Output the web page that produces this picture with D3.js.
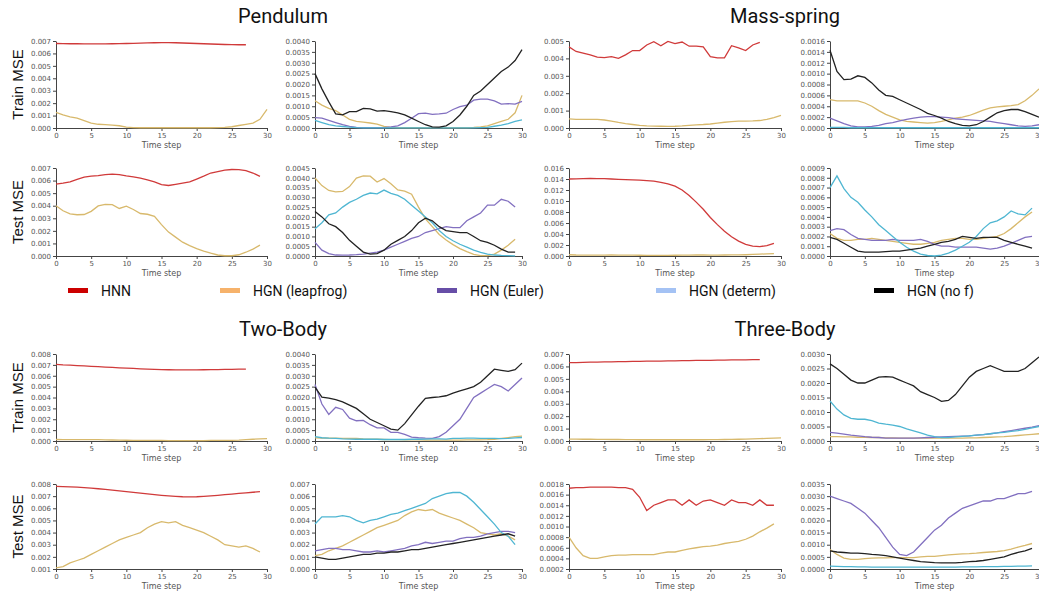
<!DOCTYPE html>
<html>
<head>
<meta charset="utf-8">
<script src="https://cdn.jsdelivr.net/npm/d3@7"></script>
<style>
  body { margin: 0; background: #fff; }
  .tick text { font-family: "DejaVu Sans", sans-serif; font-size: 7px; fill: #555; }
  .tick line { stroke: #444; }
  .domain { stroke: #444; }
</style>
</head>
<body>
<div id="chart"></div>
<script>
// ---------- data ----------
const seriesNames = ["HNN", "HGN (leapfrog)", "HGN (Euler)", "HGN (determ)", "HGN (no f)"];
const legendColors = ["#cc0000", "#f6b26b", "#674ea7", "#a4c2f4", "#000000"];
const lineColors = ["#d03a3a", "#d8b96c", "#8270c0", "#4fb6d2", "#222222"];
const xTicks = [0, 5, 10, 15, 20, 25, 30];

// Pendulum
const pendTrainHNN = [0.0068,0.00679,0.00678,0.00678,0.00677,0.00677,0.00677,0.00677,0.00678,0.00679,0.0068,0.00681,0.00683,0.00685,0.00686,0.00687,0.00687,0.00686,0.00684,0.00682,0.0068,0.00678,0.00676,0.00674,0.00672,0.00671,0.0067,0.0067];
const pendTrainLeap = [0.00125,0.00105,0.0009,0.0008,0.0006,0.0004,0.0003,0.00027,0.00023,0.00018,0.00007,0.00003,0.00002,0.00002,0.00002,0.00002,0.00002,0.00002,0.00002,0.00002,0.00002,0.00002,0.00002,0.00003,0.00005,0.0001,0.0002,0.0003,0.0004,0.0007,0.0015];
const pendTrainEuler = [0.00048,0.00045,0.00035,0.00025,0.00015,0.00007,0.00003,0.00002,0.00002,0.00002,0.00002,0.00005,0.0001,0.00025,0.00045,0.00066,0.00068,0.00063,0.00065,0.00068,0.00085,0.00098,0.00105,0.00128,0.00133,0.00133,0.00125,0.0011,0.00112,0.0011,0.00122];
const pendTrainDeterm = [0.00035,0.00025,0.00015,0.0001,0.00007,0.00004,0.00002,0.00001,0.00001,0.00001,0.00001,0.00001,0.00001,0.00001,0.00001,0.00001,0.00001,0.00001,0.00001,0.00001,0.00001,0.00001,0.00001,0.00001,0.00002,0.00003,0.00008,0.00013,0.0002,0.0003,0.00037];
const pendTrainNoF = [0.0025,0.0018,0.0012,0.00065,0.0006,0.00075,0.00075,0.0009,0.00088,0.00078,0.0008,0.00075,0.0007,0.0006,0.00045,0.0003,0.00015,0.00005,0.00004,0.0001,0.0003,0.0006,0.001,0.0015,0.0017,0.002,0.0023,0.0026,0.0028,0.0031,0.0036];
const pendTestHNN = [0.00572,0.0058,0.0059,0.0061,0.00628,0.00635,0.0064,0.00648,0.00652,0.00648,0.00638,0.0063,0.0062,0.00605,0.0059,0.00568,0.00561,0.0057,0.0058,0.0059,0.00612,0.00635,0.0066,0.00672,0.00683,0.00688,0.00687,0.0068,0.0066,0.00633];
const pendTestLeap = [0.00399,0.0036,0.00335,0.00328,0.0033,0.00355,0.00398,0.0041,0.00408,0.00378,0.00396,0.0037,0.00338,0.00332,0.00316,0.0025,0.0019,0.0015,0.0011,0.00082,0.00058,0.00038,0.00022,0.00008,0.00002,0.00002,0.0001,0.0003,0.00055,0.00086];
const pendTestEuler = [0.0007,0.0003,0.00012,0.00005,0.00004,0.00005,0.00007,0.0001,0.00015,0.0002,0.0003,0.00045,0.0006,0.00075,0.0009,0.001,0.0012,0.0013,0.0014,0.0015,0.00145,0.00145,0.0018,0.002,0.0022,0.0026,0.0026,0.0029,0.0028,0.0025];
const pendTestDeterm = [0.00139,0.0017,0.0021,0.0022,0.0025,0.00274,0.0029,0.0031,0.00322,0.00318,0.00337,0.0032,0.0031,0.0029,0.0026,0.0023,0.002,0.0017,0.0013,0.001,0.00078,0.0006,0.00045,0.0003,0.00018,0.0001,0.00005,0.00003,0.00002,0.00001];
const pendTestNoF = [0.00228,0.002,0.00165,0.0015,0.0012,0.0008,0.0005,0.0002,0.0001,0.00012,0.0003,0.0006,0.0008,0.001,0.0013,0.0017,0.00193,0.0018,0.0015,0.0013,0.00125,0.0012,0.0012,0.001,0.00078,0.0007,0.00055,0.00035,0.0002,0.0002];

// Mass-spring
const msTrainHNN = [0.00466,0.0044,0.0043,0.0042,0.00407,0.00405,0.0041,0.004,0.0042,0.00445,0.00445,0.00477,0.00496,0.00473,0.00498,0.00485,0.00494,0.0047,0.0047,0.00466,0.0041,0.00403,0.00403,0.00473,0.0046,0.00445,0.00477,0.00492];
const msTrainLeap = [0.00052,0.0005,0.0005,0.0005,0.0005,0.00046,0.0004,0.00032,0.00025,0.0002,0.00015,0.00012,0.00011,0.0001,0.00009,0.0001,0.00012,0.00015,0.00018,0.0002,0.00023,0.00028,0.00033,0.00037,0.00039,0.0004,0.00041,0.00043,0.0005,0.0006,0.00072];
const msTrainEuler = [0.00018,0.00013,0.00008,0.00004,0.00002,0.00002,0.00003,0.00005,0.00008,0.0001,0.00013,0.00016,0.00018,0.0002,0.00021,0.00021,0.0002,0.00019,0.00017,0.00016,0.00015,0.00014,0.00013,0.00012,0.0001,0.00008,0.00006,0.00004,0.00003,0.00004,0.00006];
const msTrainDeterm = [0.00001,0.00001,0.00001,0.000005,0.000005,0.000005,0.000005,0.000005,0.000005,0.000005,0.000005,0.000005,0.000005,0.000005,0.000005,0.000005,0.000005,0.000005,0.000005,0.000005,0.000005,0.000005,0.000005,0.000005,0.000005,0.000005,0.000005,0.000005,0.000005,0.000005,0.000005];
const msTrainNoF = [0.00143,0.00104,0.00089,0.0009,0.00096,0.00093,0.00083,0.0007,0.0006,0.00058,0.00052,0.00046,0.0004,0.00034,0.00027,0.00023,0.00018,0.00012,0.00008,0.00005,0.00004,0.00006,0.00012,0.0002,0.00028,0.00032,0.00034,0.00034,0.0003,0.00025,0.0002];
const msTestHNN = [0.014,0.01402,0.01405,0.0141,0.01408,0.01405,0.014,0.01395,0.0139,0.01385,0.0138,0.0137,0.0136,0.0134,0.0131,0.0127,0.012,0.011,0.0098,0.0085,0.007,0.0057,0.0045,0.0035,0.0027,0.0021,0.0018,0.0017,0.0019,0.0023];
const msTestLeap = [0.00023,0.00018,0.00016,0.00016,0.00017,0.00017,0.00018,0.00017,0.00016,0.00015,0.00014,0.00013,0.00012,0.00012,0.00013,0.00014,0.00016,0.00017,0.00018,0.00018,0.00017,0.00017,0.00018,0.00019,0.0002,0.00023,0.00028,0.00034,0.0004,0.00045];
const msTestEuler = [0.00026,0.00028,0.00027,0.00022,0.00018,0.00017,0.00016,0.00016,0.00016,0.00017,0.00016,0.00016,0.00016,0.00017,0.00015,0.00012,0.0001,0.0001,0.00009,0.00009,0.00009,0.00009,0.00008,0.00007,0.00008,0.0001,0.00013,0.00016,0.00019,0.0002];
const msTestDeterm = [0.0007,0.00082,0.00069,0.0006,0.00055,0.00047,0.0004,0.00032,0.00026,0.0002,0.00014,0.00009,0.00005,0.00002,0.000005,0,0.00001,0.00003,0.00006,0.0001,0.00014,0.0002,0.00028,0.00034,0.00036,0.0004,0.00046,0.00043,0.00042,0.00049];
const msTestNoF = [0.00019,0.00017,0.00013,0.00009,0.00005,0.00004,0.00004,0.00004,0.000045,0.00005,0.00005,0.00006,0.00007,0.00008,0.0001,0.00012,0.00014,0.00015,0.00017,0.0002,0.00019,0.00018,0.00019,0.00019,0.00019,0.00016,0.00014,0.00012,0.0001,0.00008];

// Two-Body
const tbTrainHNN = [0.00705,0.007,0.00697,0.00693,0.0069,0.00686,0.00683,0.0068,0.00677,0.00673,0.0067,0.00667,0.00664,0.00661,0.00659,0.00657,0.00655,0.00654,0.00654,0.00654,0.00654,0.00655,0.00656,0.00657,0.00658,0.00659,0.0066,0.00661];
const tbTrainLeap = [0.00014,0.00013,0.00013,0.00013,0.00012,0.00012,0.00012,0.0001,0.00009,0.00008,0.00007,0.00006,0.00006,0.00005,0.00005,0.00005,0.00004,0.00004,0.00004,0.00004,0.00004,0.00004,0.00005,0.00005,0.00005,0.00006,0.00008,0.00012,0.00016,0.0002,0.00022];
const tbTrainEuler = [0.0026,0.0017,0.00122,0.00155,0.00145,0.00105,0.00093,0.00095,0.00075,0.0006,0.0006,0.0004,0.0004,0.0003,0.00018,0.00015,0.00013,0.00012,0.0002,0.0004,0.0007,0.001,0.0015,0.002,0.0022,0.0024,0.0026,0.0025,0.0023,0.0026,0.0029];
const tbTrainDeterm = [0.0002,0.00015,0.00013,0.00012,0.0001,0.00009,0.00008,0.00008,0.00008,0.00008,0.00007,0.00007,0.00007,0.00007,0.00008,0.00008,0.00009,0.0001,0.0001,0.00009,0.00012,0.00012,0.00013,0.00013,0.00012,0.00012,0.00012,0.00011,0.00012,0.00014,0.00016];
const tbTrainNoF = [0.00248,0.00202,0.00197,0.0019,0.0018,0.00165,0.0015,0.00125,0.001,0.00085,0.0007,0.00055,0.0005,0.0008,0.0012,0.0016,0.00196,0.002,0.00203,0.00208,0.0022,0.0023,0.0024,0.0025,0.0027,0.003,0.0033,0.00325,0.0032,0.00328,0.00358];
const tbTestHNN = [0.0078,0.00779,0.00777,0.00774,0.0077,0.00766,0.00761,0.00755,0.00749,0.00743,0.00737,0.00731,0.00725,0.00719,0.00713,0.00707,0.00702,0.00698,0.00695,0.00694,0.00695,0.00698,0.00702,0.00707,0.00712,0.00717,0.00722,0.00727,0.00732,0.00737];
const tbTestLeap = [0.0011,0.0012,0.0015,0.0017,0.0019,0.0022,0.0025,0.0028,0.0031,0.0034,0.0036,0.0038,0.004,0.0044,0.0047,0.0049,0.0048,0.0049,0.0046,0.0044,0.0042,0.004,0.0037,0.0034,0.003,0.0029,0.0028,0.0029,0.0027,0.0024];
const tbTestEuler = [0.0015,0.0016,0.0017,0.0017,0.0016,0.0016,0.0015,0.0014,0.0014,0.0015,0.0014,0.0015,0.0016,0.0017,0.0019,0.002,0.0022,0.0021,0.0022,0.0023,0.0023,0.0025,0.0026,0.0026,0.0027,0.0029,0.003,0.0031,0.0031,0.003];
const tbTestDeterm = [0.0037,0.0043,0.0043,0.0043,0.0044,0.0043,0.004,0.0038,0.004,0.0041,0.0043,0.0045,0.0046,0.0048,0.005,0.0052,0.0054,0.0058,0.006,0.0062,0.0063,0.0063,0.006,0.0055,0.0049,0.0043,0.0037,0.003,0.0027,0.002];
const tbTestNoF = [0.001,0.0009,0.0008,0.0008,0.0009,0.001,0.0011,0.0012,0.0012,0.0013,0.0013,0.0014,0.0014,0.0015,0.0016,0.0016,0.0017,0.0018,0.0019,0.002,0.0021,0.0022,0.0023,0.0024,0.0025,0.0026,0.0027,0.0028,0.0029,0.0027];

// Three-Body
const thTrainHNN = [0.0063,0.00631,0.00632,0.00634,0.00635,0.00636,0.00637,0.00638,0.00639,0.0064,0.00641,0.00642,0.00642,0.00643,0.00644,0.00645,0.00646,0.00647,0.00648,0.00648,0.00649,0.0065,0.00651,0.00652,0.00652,0.00653,0.00654,0.00655];
const thTrainLeap = [0.00015,0.00015,0.00014,0.00014,0.00013,0.00013,0.00012,0.00012,0.00011,0.00011,0.0001,0.0001,0.0001,0.0001,0.0001,0.0001,0.0001,0.0001,0.0001,0.0001,0.00011,0.00011,0.00012,0.00013,0.00014,0.00015,0.00017,0.00019,0.00021,0.00023,0.00025];
const thTrainEuler = [0.0003,0.00027,0.00024,0.0002,0.00018,0.00015,0.00013,0.00012,0.0001,0.0001,0.0001,0.0001,0.0001,0.00011,0.00012,0.00013,0.00014,0.00015,0.00016,0.00017,0.00018,0.0002,0.00022,0.00025,0.00028,0.00032,0.00036,0.0004,0.00044,0.00048,0.00053];
const thTrainDeterm = [0.00138,0.0011,0.0009,0.00078,0.00075,0.00075,0.0007,0.00062,0.00058,0.00055,0.0005,0.00042,0.00035,0.00028,0.0002,0.00015,0.00012,0.00012,0.00014,0.00016,0.00018,0.0002,0.00022,0.00025,0.00028,0.0003,0.00033,0.00036,0.0004,0.00045,0.0005];
const thTrainNoF = [0.00266,0.0025,0.0023,0.0021,0.002,0.002,0.0021,0.0022,0.00222,0.0022,0.0021,0.002,0.0019,0.0017,0.0016,0.0015,0.00137,0.0014,0.0016,0.0019,0.0022,0.0024,0.0025,0.0026,0.0025,0.0024,0.0024,0.0024,0.0025,0.0027,0.0029];
const thTestHNN = [0.00172,0.00173,0.00173,0.00174,0.00174,0.00174,0.00174,0.00173,0.00173,0.0017,0.00155,0.0013,0.0014,0.00145,0.0015,0.0015,0.0014,0.0015,0.0014,0.00148,0.0015,0.00145,0.0014,0.0015,0.00145,0.00145,0.0014,0.0015,0.0014,0.0014];
const thTestLeap = [0.0008,0.0006,0.00045,0.0004,0.0004,0.00043,0.00045,0.00046,0.00046,0.00047,0.00047,0.00047,0.00047,0.0005,0.00052,0.00052,0.00055,0.00058,0.0006,0.00062,0.00063,0.00065,0.00068,0.0007,0.00072,0.00076,0.00082,0.0009,0.00097,0.00105];
const thTestEuler = [0.003,0.0029,0.0028,0.0027,0.0025,0.0023,0.002,0.0017,0.0013,0.0009,0.0006,0.00055,0.0007,0.001,0.0013,0.0016,0.0018,0.0021,0.0023,0.0025,0.0026,0.0027,0.0028,0.0028,0.0029,0.0029,0.003,0.0031,0.0031,0.0032];
const thTestDeterm = [0.00012,0.00011,0.0001,0.0001,0.00009,0.00009,0.00008,0.00008,0.00008,0.00008,0.00008,0.00008,0.00008,0.00008,0.00008,0.00008,0.00008,0.00008,0.00008,0.00009,0.00009,0.00009,0.0001,0.0001,0.0001,0.00011,0.00011,0.00012,0.00012,0.00013];
const thTestNoF = [0.00075,0.0007,0.00068,0.00065,0.00065,0.00063,0.0006,0.00058,0.00055,0.0005,0.00045,0.0004,0.00035,0.0003,0.00028,0.00026,0.00025,0.00025,0.00025,0.00027,0.0003,0.00032,0.00035,0.0004,0.00045,0.0005,0.0006,0.00068,0.00075,0.00085];

// y tick labels of each panel
const ticks007 = [0,0.001,0.002,0.003,0.004,0.005,0.006,0.007];
const ticks008 = [0,0.001,0.002,0.003,0.004,0.005,0.006,0.007,0.008];
const ticks0040 = [0,0.0005,0.001,0.0015,0.002,0.0025,0.003,0.0035,0.004];
const ticks0045 = [0,0.0005,0.001,0.0015,0.002,0.0025,0.003,0.0035,0.004,0.0045];
const ticks0035 = [0,0.0005,0.001,0.0015,0.002,0.0025,0.003,0.0035];
const ticks0030 = [0,0.0005,0.001,0.0015,0.002,0.0025,0.003];
const ticks005 = [0,0.001,0.002,0.003,0.004,0.005];
const ticks0016 = [0,0.0002,0.0004,0.0006,0.0008,0.001,0.0012,0.0014,0.0016];
const ticks016 = [0,0.002,0.004,0.006,0.008,0.01,0.012,0.014,0.016];
const ticks0009 = [0,0.0001,0.0002,0.0003,0.0004,0.0005,0.0006,0.0007,0.0008,0.0009];
const ticks008b = [0.001,0.002,0.003,0.004,0.005,0.006,0.007,0.008];
const ticks0018 = [0.0002,0.0004,0.0006,0.0008,0.001,0.0012,0.0014,0.0016,0.0018];

const groupTitles = ["Pendulum", "Mass-spring", "Two-Body", "Three-Body"];

// ---------- layout ----------
const W = 1039, H = 594;
const colX = [[56, 267], [315, 522], [569, 781], [830, 1039]];
const rowY = [[41, 128], [168, 256], [354, 441], [484, 569]];

// left panel: HNN + leapfrog, right panel: leapfrog + Euler + determ + no f
const panels = [
  { r: 0, c: 0, ticks: ticks007, d: 3, lines: [[0, pendTrainHNN], [1, pendTrainLeap]] },
  { r: 0, c: 1, ticks: ticks0040, d: 4, lines: [[1, pendTrainLeap], [2, pendTrainEuler], [3, pendTrainDeterm], [4, pendTrainNoF]] },
  { r: 1, c: 0, ticks: ticks007, d: 3, lines: [[0, pendTestHNN], [1, pendTestLeap]] },
  { r: 1, c: 1, ticks: ticks0045, d: 4, lines: [[1, pendTestLeap], [2, pendTestEuler], [3, pendTestDeterm], [4, pendTestNoF]] },
  { r: 0, c: 2, ticks: ticks005, d: 3, lines: [[0, msTrainHNN], [1, msTrainLeap]] },
  { r: 0, c: 3, ticks: ticks0016, d: 4, lines: [[1, msTrainLeap], [2, msTrainEuler], [3, msTrainDeterm], [4, msTrainNoF]] },
  { r: 1, c: 2, ticks: ticks016, d: 3, lines: [[0, msTestHNN], [1, msTestLeap]] },
  { r: 1, c: 3, ticks: ticks0009, d: 4, lines: [[1, msTestLeap], [2, msTestEuler], [3, msTestDeterm], [4, msTestNoF]] },
  { r: 2, c: 0, ticks: ticks008, d: 3, lines: [[0, tbTrainHNN], [1, tbTrainLeap]] },
  { r: 2, c: 1, ticks: ticks0040, d: 4, lines: [[1, tbTrainLeap], [2, tbTrainEuler], [3, tbTrainDeterm], [4, tbTrainNoF]] },
  { r: 3, c: 0, ticks: ticks008b, d: 3, lines: [[0, tbTestHNN], [1, tbTestLeap]] },
  { r: 3, c: 1, ticks: ticks007, d: 3, lines: [[1, tbTestLeap], [2, tbTestEuler], [3, tbTestDeterm], [4, tbTestNoF]] },
  { r: 2, c: 2, ticks: ticks007, d: 3, lines: [[0, thTrainHNN], [1, thTrainLeap]] },
  { r: 2, c: 3, ticks: ticks0030, d: 4, lines: [[1, thTrainLeap], [2, thTrainEuler], [3, thTrainDeterm], [4, thTrainNoF]] },
  { r: 3, c: 2, ticks: ticks0018, d: 4, lines: [[0, thTestHNN], [1, thTestLeap]] },
  { r: 3, c: 3, ticks: ticks0035, d: 4, lines: [[1, thTestLeap], [2, thTestEuler], [3, thTestDeterm], [4, thTestNoF]] }
];

const svg = d3.select("#chart").append("svg")
  .attr("width", W).attr("height", H);

panels.forEach(p => {
  const [x0, x1] = colX[p.c], [y0, y1] = rowY[p.r];
  const x = d3.scaleLinear().domain([0, 30]).range([x0, x1]);
  const y = d3.scaleLinear().domain(d3.extent(p.ticks)).range([y1, y0]);
  const g = svg.append("g");

  g.append("g")
    .attr("transform", `translate(0,${y1})`)
    .call(d3.axisBottom(x).tickValues(xTicks).tickSize(3).tickSizeOuter(0).tickPadding(2));
  g.append("g")
    .attr("transform", `translate(${x0},0)`)
    .call(d3.axisLeft(y).tickValues(p.ticks).tickFormat(d3.format(`.${p.d}f`)).tickSize(3).tickSizeOuter(0).tickPadding(2));

  g.append("text")
    .attr("x", (x0 + x1) / 2)
    .attr("y", y1 + 20)
    .attr("text-anchor", "middle")
    .style("font-family", "DejaVu Sans, sans-serif")
    .style("font-size", "8px")
    .style("fill", "#555")
    .text("Time step");

  p.lines.forEach(([k, vals]) => {
    g.append("path")
      .datum(vals)
      .attr("fill", "none")
      .attr("stroke", lineColors[k])
      .attr("stroke-width", 1.3)
      .attr("d", d3.line().x((d, i) => x(i)).y(d => y(d)));
  });
});

// group titles
[[0, 0], [1, 0], [0, 1], [1, 1]].forEach(([cx, cy], i) => {
  svg.append("text")
    .attr("x", [283, 785][cx])
    .attr("y", [23, 336][cy])
    .attr("text-anchor", "middle")
    .style("font-family", "Roboto, sans-serif")
    .style("font-size", "20px")
    .style("fill", "#111")
    .text(groupTitles[i]);
});

// row labels
rowY.forEach(([a, b], i) => {
  svg.append("text")
    .attr("transform", `translate(23,${(a + b) / 2}) rotate(-90)`)
    .attr("text-anchor", "middle")
    .style("font-family", "Liberation Sans, Arial, sans-serif")
    .style("font-size", "15px")
    .style("fill", "#111")
    .text(i % 2 === 0 ? "Train MSE" : "Test MSE");
});

// legend
const legendX = [68, 220, 437, 656, 874];
seriesNames.forEach((name, i) => {
  svg.append("rect")
    .attr("x", legendX[i]).attr("y", 288)
    .attr("width", 20).attr("height", 5)
    .attr("fill", legendColors[i]);
  svg.append("text")
    .attr("x", legendX[i] + 33).attr("y", 296)
    .style("font-family", "Roboto, sans-serif")
    .style("font-size", "14px")
    .style("fill", "#111")
    .text(name);
});
</script>
</body>
</html>
